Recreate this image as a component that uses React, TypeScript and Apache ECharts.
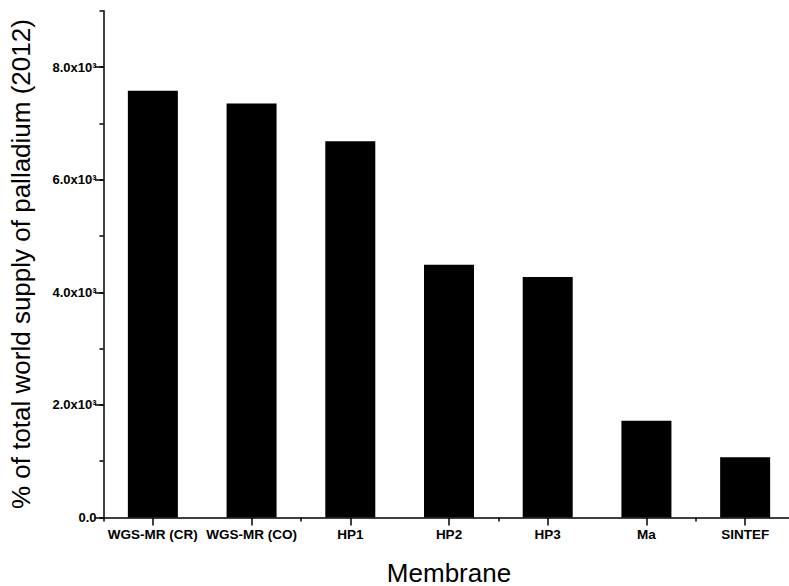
import React, { useEffect, useRef } from "react";
import * as echarts from "echarts";

const categories = ["WGS-MR (CR)", "WGS-MR (CO)", "HP1", "HP2", "HP3", "Ma", "SINTEF"];
const values = [7580, 7350, 6680, 4490, 4270, 1720, 1070];
const yMax = 9000;
const yMajorMax = 8000;
const yMajorStep = 2000;

const FONT = "'Liberation Sans', Arial, sans-serif";

function fmt(v: number): string {
  if (v === 0) return "0.0";
  return (v / 1000).toFixed(1) + "x10\u00B3";
}

export default function App() {
  const ref = useRef<HTMLDivElement>(null);
  useEffect(() => {
    if (!ref.current) return;
    const chart = echarts.init(ref.current, null, { renderer: "svg" });
    const axisLineStyle = { color: "#000", width: 1.5 };
    const top = 10.7;
    const height = 506.8;
    const pxPerUnit = height / yMax;
    const top2 = top + (yMax - yMajorMax) * pxPerUnit;
    const height2 = yMajorMax * pxPerUnit;
    chart.setOption({
      animation: false,
      backgroundColor: "#fff",
      grid: [
        { left: 103.5, top, height, width: 691, containLabel: false, outerBoundsMode: "none" },
        { left: 103.5, top: top2, height: height2, width: 691, containLabel: false, outerBoundsMode: "none" },
      ],
      xAxis: [
        {
          type: "category",
          gridIndex: 0,
          data: categories,
          position: "bottom",
          axisLine: { show: true, onZero: false, lineStyle: axisLineStyle },
          axisTick: { show: true, length: 4, alignWithLabel: false, lineStyle: { color: "#000", width: 1.5 } },
          axisLabel: { show: false },
          splitLine: { show: false },
          name: "Membrane",
          nameLocation: "middle",
          nameGap: 44,
          nameTextStyle: { fontFamily: FONT, fontSize: 26, lineHeight: 22, color: "#000" },
        },
        {
          type: "category",
          gridIndex: 0,
          data: categories,
          position: "bottom",
          axisLine: { show: false, onZero: false },
          axisTick: { show: true, length: 8, alignWithLabel: true, lineStyle: { color: "#000", width: 1.5 } },
          axisLabel: {
            show: true,
            interval: 0,
            margin: 10,
            fontFamily: FONT,
            fontSize: 13.5,
            fontWeight: "bold",
            color: "#000",
          },
          splitLine: { show: false },
        },
        {
          type: "category",
          gridIndex: 1,
          data: categories,
          show: false,
        },
      ],
      yAxis: [
        {
          type: "value",
          gridIndex: 0,
          min: 0,
          max: yMax,
          interval: 1000,
          position: "left",
          axisLine: { show: true, onZero: false, lineStyle: axisLineStyle },
          axisTick: { show: true, length: 4, lineStyle: { color: "#000", width: 1.5 } },
          axisLabel: { show: false },
          splitLine: { show: false },
          name: "% of total world supply of palladium (2012)",
          nameLocation: "middle",
          nameGap: 70,
          nameTextStyle: { fontFamily: FONT, fontSize: 26, color: "#000" },
        },
        {
          type: "value",
          gridIndex: 1,
          min: 0,
          max: yMajorMax,
          interval: yMajorStep,
          position: "left",
          axisLine: { show: false, onZero: false },
          axisTick: { show: true, length: 8.5, lineStyle: { color: "#000", width: 1.5 } },
          axisLabel: {
            show: true,
            margin: 7,
            fontFamily: FONT,
            fontSize: 13,
            fontWeight: "bold",
            color: "#000",
            formatter: (v: number) => fmt(v),
          },
          splitLine: { show: false },
        },
      ],
      series: [
        {
          type: "bar",
          xAxisIndex: 0,
          yAxisIndex: 0,
          data: values,
          barWidth: 50,
          itemStyle: { color: "#000" },
        },
      ],
    });
    return () => chart.dispose();
  }, []);
  return (
    <div
      ref={ref}
      style={{ position: "fixed", left: 0, top: 0, width: 789, height: 586, background: "#fff" }}
    />
  );
}
